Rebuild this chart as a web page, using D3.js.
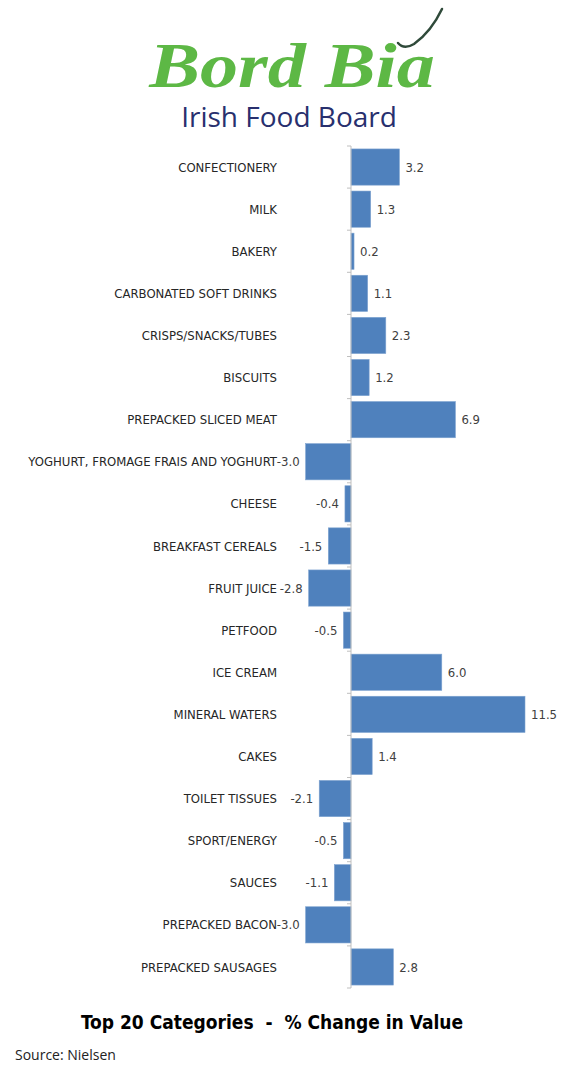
<!DOCTYPE html>
<html>
<head>
<meta charset="utf-8">
<script src="https://cdn.jsdelivr.net/npm/d3@7"></script>
<style>
  body { margin: 0; background: #fff; }
  svg { display: block; }
</style>
</head>
<body>
<div class="graph"></div>
<script>
// categories top to bottom and % change in value
const categories = ["CONFECTIONERY", "MILK", "BAKERY", "CARBONATED SOFT DRINKS", "CRISPS/SNACKS/TUBES",
    "BISCUITS", "PREPACKED SLICED MEAT", "YOGHURT, FROMAGE FRAIS AND YOGHURT", "CHEESE", "BREAKFAST CEREALS",
    "FRUIT JUICE", "PETFOOD", "ICE CREAM", "MINERAL WATERS", "CAKES", "TOILET TISSUES", "SPORT/ENERGY",
    "SAUCES", "PREPACKED BACON", "PREPACKED SAUSAGES"];
const values = [3.2, 1.3, 0.2, 1.1, 2.3, 1.2, 6.9, -3.0, -0.4, -1.5, -2.8, -0.5, 6.0, 11.5, 1.4, -2.1, -0.5, -1.1, -3.0, 2.8];
const title = "Top 20 Categories  -  % Change in Value";
const source = "Source: Nielsen";

let width = 571, height = 1066;
let labelFont = "'Liberation Sans Narrow', 'DejaVu Sans Condensed', sans-serif";

let svg = d3.select(".graph").append("svg")
    .attr("width", width)
    .attr("height", height);

// logo
svg.append("text")
    .attr("transform", "translate(292,87) scale(1.19,1)")
    .attr("text-anchor", "middle")
    .style("font-family", "'Liberation Serif', serif")
    .style("font-style", "italic")
    .style("font-weight", "bold")
    .style("font-size", "64px")
    .style("fill", "#5db845")
    .text("Bord Bia");
svg.append("path")
    .attr("d", "M398,43 Q404,50 414,44 Q431,32 442,9")
    .attr("fill", "none")
    .attr("stroke", "#2f4a3a")
    .attr("stroke-width", 2.5)
    .attr("stroke-linecap", "round");
svg.append("text")
    .attr("x", 289).attr("y", 127)
    .attr("text-anchor", "middle")
    .style("font-family", "'Open Sans', sans-serif")
    .style("font-size", "28px")
    .style("fill", "#28306e")
    .text("Irish Food Board");

let x = d3.scaleLinear()
    .domain([0, 11.5])
    .range([351, 525]);

let y = d3.scaleBand()
    .domain(categories)
    .range([146, 988])
    .paddingInner(0.14)
    .paddingOuter(0.07);

let data = categories.map((c, i) => ({cat: c, v: values[i]}));

svg.selectAll("rect.bar")
    .data(data)
    .join("rect")
    .attr("class", "bar")
    .attr("x", d => x(Math.min(0, d.v)))
    .attr("y", d => y(d.cat))
    .attr("width", d => Math.abs(x(d.v) - x(0)))
    .attr("height", y.bandwidth())
    .attr("fill", "#4f81bd")
    .attr("stroke", "#7ea3d0")
    .attr("stroke-width", 0.6);

// category axis at zero with ticks on band boundaries
svg.append("line")
    .attr("x1", x(0)).attr("x2", x(0))
    .attr("y1", 146).attr("y2", 988)
    .attr("stroke", "#bfbfbf");
svg.selectAll("line.tick")
    .data(d3.range(categories.length + 1))
    .join("line")
    .attr("class", "tick")
    .attr("x1", x(0) - 4).attr("x2", x(0))
    .attr("y1", i => 146 + i * (842 / categories.length))
    .attr("y2", i => 146 + i * (842 / categories.length))
    .attr("stroke", "#bfbfbf");

svg.selectAll("text.cat")
    .data(data)
    .join("text")
    .attr("class", "cat")
    .attr("x", 277)
    .attr("y", d => y(d.cat) + y.bandwidth() / 2)
    .attr("dy", "0.35em")
    .attr("text-anchor", "end")
    .style("font-family", labelFont)
    .style("font-size", "13px")
    .style("fill", "#262626")
    .text(d => d.cat);

svg.selectAll("text.val")
    .data(data)
    .join("text")
    .attr("class", "val")
    .attr("x", d => d.v >= 0 ? x(d.v) + 6 : x(d.v) - 6)
    .attr("y", d => y(d.cat) + y.bandwidth() / 2)
    .attr("dy", "0.35em")
    .attr("text-anchor", d => d.v >= 0 ? "start" : "end")
    .style("font-family", labelFont)
    .style("font-size", "13px")
    .style("fill", "#404040")
    .text(d => d.v.toFixed(1));

svg.append("text")
    .attr("x", 272).attr("y", 1029)
    .attr("text-anchor", "middle")
    .style("font-family", labelFont)
    .style("font-weight", "bold")
    .style("font-size", "19px")
    .style("fill", "#000")
    .style("white-space", "pre")
    .attr("xml:space", "preserve")
    .text(title);

svg.append("text")
    .attr("x", 15).attr("y", 1060)
    .style("font-family", "'Open Sans', sans-serif")
    .style("font-size", "14px")
    .style("fill", "#222")
    .text(source);
</script>
</body>
</html>
